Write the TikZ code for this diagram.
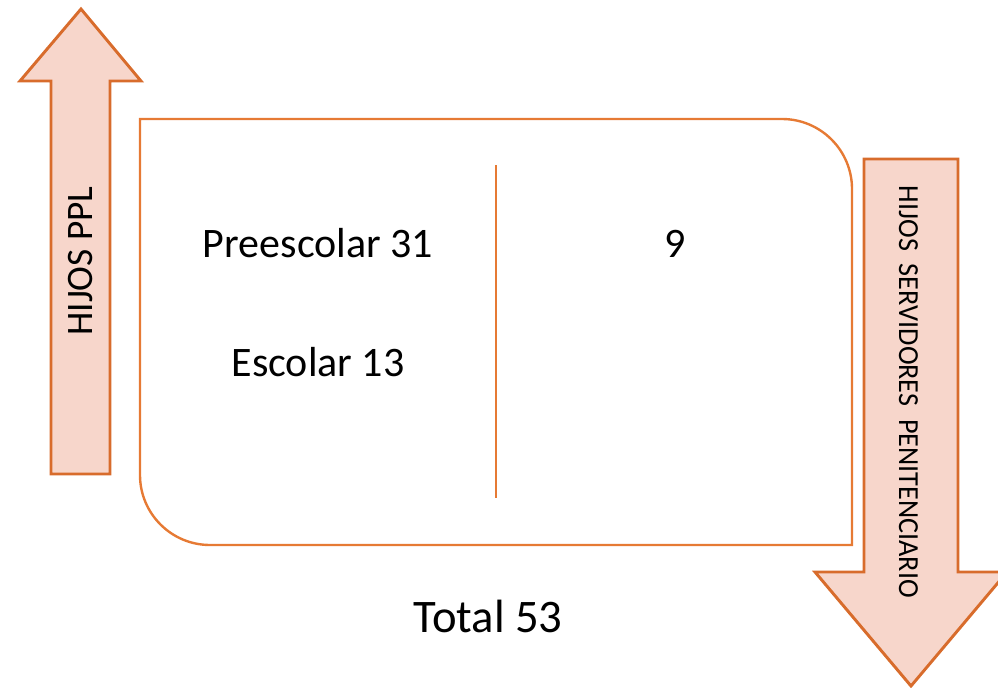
\documentclass[tikz,border=0pt]{standalone}
\usepackage{fontspec}
\setmainfont{Carlito}
\newfontfamily\narrowfont[FakeStretch=0.97]{Carlito}
\usepackage{tikz}
\usetikzlibrary{positioning}
\definecolor{arrowBody}{RGB}{247,214,203}
\definecolor{arrowBorder}{RGB}{216,108,44}
\definecolor{boxBorder}{RGB}{230,122,52}
\tikzstyle{blockArrow} = [fill=arrowBody, draw=arrowBorder, line width=2.2pt, line join=miter]
\tikzstyle{frame} = [draw=boxBorder, line width=1.8pt]
\tikzstyle{label} = [inner sep=0pt, anchor=base, text=black]

\begin{document}
\begin{tikzpicture}[x=0.75pt, y=0.75pt]
            \useasboundingbox (0,0) rectangle (998,687);
            % arrow going up
            \draw [blockArrow] (81,678) -- (141,606) -- (110,606) -- (110,213)
                -- (51,213) -- (51,606) -- (20,606) -- cycle;
            % arrow going down
            \draw [blockArrow] (911,1) -- (1007,115) -- (958,115) -- (958,528)
                -- (864,528) -- (864,115) -- (815,115) -- cycle;
            % rounded frame
            \draw [frame] (140,568) -- (782,568) arc [start angle=90, end angle=0, radius=52.5pt]
                -- (852,142) -- (210,142) arc [start angle=270, end angle=180, radius=52.5pt]
                -- cycle;
            \coordinate (divTop) at (496,522);
            \coordinate (divBottom) at (496,189);
            \draw [frame, line width=1.5pt] (divTop) -- (divBottom);
            \node [label, font=\fontsize{31.5}{38}\selectfont] (preescolar) at (318,430) {Preescolar 31};
            \node [label, font=\fontsize{31.5}{38}\selectfont] (escolar) at (318,311) {Escolar 13};
            \node [label, font=\fontsize{31.5}{38}\selectfont] (nueve) at (675,430) {9};
            \node [label, font=\fontsize{35}{42}\selectfont] (total) at (488,55) {Total 53};
            \node [label, rotate=90, font=\fontsize{28}{34}\selectfont] (hijosPPL) at (92,426) {HIJOS PPL};
            \node [label, rotate=-90, font=\narrowfont\fontsize{21.8}{26}\selectfont] (hijosServ) at (899,295)
                {HIJOS\ \ SERVIDORES\ \ PENITENCIARIO};
        \end{tikzpicture}
\end{document}
